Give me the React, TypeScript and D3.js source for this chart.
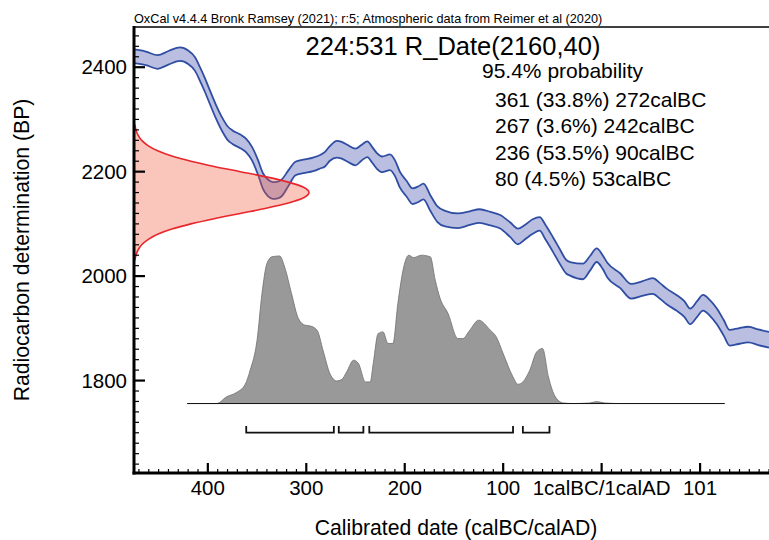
import React from 'react';
import * as d3 from 'd3';

// ---- Calibration curve (IntCal20 segment): calendar year (BC negative), mean BP, 1-sigma error
const curveYears = [-475, -463, -451, -440, -428, -420, -413, -408, -403, -398, -392, -385, -380, -375, -367, -361, -355, -349, -344, -339, -334, -329, -325, -318, -311, -303, -293, -286, -281, -276, -269, -264, -258, -250, -244, -238, -233, -228, -223, -215, -210, -205, -198, -192, -186, -181, -174, -167, -159, -146, -134, -124, -113, -103, -93, -85, -78, -70, -63, -57, -49, -42, -36, -32, -19, -12, -5, 1, 6, 19, 30, 41, 52, 59, 66, 76, 84, 90, 97, 103, 110, 117, 124, 130, 139, 149, 159, 170];
const curveBP = [2421, 2417, 2410, 2418, 2425, 2419, 2406, 2387, 2366, 2343, 2316, 2289, 2274, 2266, 2258, 2250, 2234, 2208, 2182, 2169, 2164, 2165, 2169, 2188, 2206, 2210, 2214, 2219, 2224, 2235, 2243, 2241, 2235, 2228, 2236, 2243, 2232, 2220, 2214, 2218, 2207, 2185, 2167, 2153, 2157, 2162, 2140, 2119, 2110, 2106, 2111, 2115, 2110, 2104, 2089, 2076, 2084, 2095, 2100, 2084, 2059, 2036, 2018, 2014, 2009, 2024, 2040, 2027, 2011, 1991, 1971, 1976, 1981, 1972, 1961, 1949, 1937, 1923, 1937, 1949, 1939, 1923, 1901, 1882, 1885, 1888, 1883, 1878];
const curveErr = [13, 13, 13, 13, 13, 13, 13, 13, 13, 13, 13, 13, 13, 13, 13, 13, 13, 14, 15, 16, 16, 16, 16, 15, 13, 13, 13, 13, 14, 14, 16, 16, 16, 16, 15, 15, 15, 15, 15, 15, 15, 15, 15, 15, 15, 15, 15, 15, 15, 14, 13, 13, 13, 13, 14, 15, 14, 14, 13, 14, 14, 14, 13, 13, 15, 14, 13, 13, 14, 14, 14, 14, 15, 15, 15, 15, 15, 15, 15, 15, 15, 15, 15, 15, 15, 15, 15, 15];

// ---- Radiocarbon date R_Date(2160,40): BP levels and relative density
const dateBP = [2290, 2280, 2270, 2260, 2250, 2240, 2230, 2220, 2210, 2200, 2190, 2180, 2170, 2160, 2150, 2140, 2130, 2120, 2110, 2100, 2090, 2080, 2070, 2060, 2050, 2040, 2030];
const dateDensity = [0.005, 0.011, 0.023, 0.044, 0.08, 0.135, 0.216, 0.325, 0.458, 0.607, 0.755, 0.882, 0.969, 1.0, 0.969, 0.882, 0.755, 0.607, 0.458, 0.325, 0.216, 0.135, 0.08, 0.044, 0.023, 0.011, 0.005];

// ---- Calibrated probability distribution
const probYears = [-421, -391, -381, -371, -362, -357, -350, -345, -340, -335, -327, -322, -315, -308, -301, -296, -289, -283, -276, -269, -264, -259, -252, -247, -240, -235, -232, -227, -222, -217, -212, -207, -201, -196, -191, -183, -174, -169, -164, -156, -146, -141, -134, -125, -113, -107, -100, -90, -85, -80, -73, -66, -60, -54, -47, -39, -29, -12, -5, 3, 19, 125];
const probValues = [0, 0, 0.045, 0.074, 0.13, 0.225, 0.427, 0.742, 0.944, 0.989, 0.995, 0.921, 0.742, 0.573, 0.528, 0.523, 0.494, 0.359, 0.202, 0.152, 0.162, 0.213, 0.292, 0.27, 0.146, 0.146, 0.27, 0.472, 0.483, 0.405, 0.405, 0.674, 0.921, 1.0, 0.984, 1.0, 0.989, 0.831, 0.708, 0.607, 0.438, 0.438, 0.494, 0.562, 0.494, 0.449, 0.337, 0.179, 0.13, 0.146, 0.225, 0.348, 0.371, 0.179, 0.045, 0.004, 0, 0.004, 0.013, 0.004, 0, 0];

// ---- 95.4% ranges (calBC)
const rangeFrom = [361, 267, 236, 80];
const rangeTo = [272, 242, 90, 53];
const rangePct = [33.8, 3.6, 53.5, 4.5];

// ---- Axis ticks
const xTickValues = [-400, -300, -200, -100, 0, 100];
const xTickLabels = ['400', '300', '200', '100', '1calBC/1calAD', '101'];
const yTickValues = [1800, 2000, 2200, 2400];

const headerText = 'OxCal v4.4.4 Bronk Ramsey (2021); r:5; Atmospheric data from Reimer et al (2020)';
const titleText = '224:531 R_Date(2160,40)';

const W = 769;
const H = 540;
const FONT = "'Liberation Sans', Arial, Helvetica, sans-serif";

export default function App() {
  const left = 134, right = 769, top = 27, bottom = 473;
  const x = d3.scaleLinear().domain([-475, 170]).range([left, right]);
  const y = d3.scaleLinear().domain([1623, 2477]).range([bottom, top]);
  const dens = d3.scaleLinear().domain([0, 1]).range([left, 309]);
  const probBaseBP = 1756;
  const probTopBP = 2040;
  const prob = d3.scaleLinear().domain([0, 1]).range([y(probBaseBP), y(probTopBP)]);

  const curve = curveYears.map((yr, i) => ({ yr, m: curveBP[i], e: curveErr[i] }));
  const band = d3.area<any>()
    .x(d => x(d.yr)).y0(d => y(d.m - d.e)).y1(d => y(d.m + d.e))
    .curve(d3.curveMonotoneX)(curve) || '';
  const upper = d3.line<any>().x(d => x(d.yr)).y(d => y(d.m + d.e)).curve(d3.curveMonotoneX)(curve) || '';
  const lower = d3.line<any>().x(d => x(d.yr)).y(d => y(d.m - d.e)).curve(d3.curveMonotoneX)(curve) || '';

  const date = dateBP.map((bp, i) => ({ bp, d: dateDensity[i] }));
  const dateArea = d3.area<any>().y(d => y(d.bp)).x0(dens(0)).x1(d => dens(d.d)).curve(d3.curveMonotoneY)(date) || '';
  const dateLine = d3.line<any>().y(d => y(d.bp)).x(d => dens(d.d)).curve(d3.curveMonotoneY)(date) || '';

  const pd = probYears.map((yr, i) => ({ yr, p: probValues[i] }));
  const probArea = d3.area<any>().x(d => x(d.yr)).y0(prob(0)).y1(d => prob(d.p)).curve(d3.curveMonotoneX)(pd) || '';
  const probLine = d3.line<any>().x(d => x(d.yr)).y(d => prob(d.p)).curve(d3.curveMonotoneX)(pd) || '';
  const baseY = prob(0);

  const yMinor = d3.range(1640, 2461, 20);
  const xMinor = d3.range(-470, 171, 10);

  return (
    <svg width={W} height={H} viewBox={`0 0 ${W} ${H}`}
      style={{ position: 'absolute', left: 0, top: 0, background: '#fff' }}
      fontFamily={FONT}>
      <defs>
        <clipPath id="plot">
          <rect x={left} y={top} width={right - left} height={bottom - top} />
        </clipPath>
      </defs>
      <rect x={0} y={0} width={W} height={H} fill="#fff" />

      <g clipPath="url(#plot)">
        {/* calibration curve */}
        <path d={band} fill="#1a2a9a" fillOpacity={0.3} stroke="none" />
        <path d={upper} fill="none" stroke="#2f4ea3" strokeWidth={1.8} />
        <path d={lower} fill="none" stroke="#2f4ea3" strokeWidth={1.8} />
        {/* radiocarbon date distribution */}
        <path d={dateArea} fill="rgb(240,90,60)" fillOpacity={0.35} stroke="none" />
        <path d={dateLine} fill="none" stroke="#e8262b" strokeWidth={1.6} />
        {/* calibrated distribution */}
        <path d={probArea} fill="#999999" stroke="none" />
        <path d={probLine} fill="none" stroke="#6e6e6e" strokeWidth={0.8} />
        <line x1={x(probYears[0])} x2={x(probYears[probYears.length - 1])} y1={baseY} y2={baseY} stroke="#111" strokeWidth={1} />
        {/* 95.4% range brackets */}
        {rangeFrom.map((f, i) => {
          const x1 = x(-f), x2 = x(-rangeTo[i]);
          const t = baseY + 22.5, b = baseY + 29;
          return <path key={i} d={`M${x1},${t}V${b}H${x2}V${t}`} fill="none" stroke="#111" strokeWidth={1.8} />;
        })}
      </g>

      {/* frame top */}
      <line x1={left} x2={right} y1={top} y2={top} stroke="#000" strokeWidth={1.5} />

      {/* y axis ticks */}
      {yMinor.map(v => {
        const major = v % 200 === 0;
        return <line key={v} x1={left} x2={left + (major ? 11 : 5)} y1={y(v)} y2={y(v)} stroke="#000" strokeWidth={major ? 2.2 : 1.2} />;
      })}
      {yTickValues.map(v => (
        <text key={v} x={127} y={y(v) + 7} textAnchor="end" fontSize={20.5} fill="#000">{v}</text>
      ))}
      {/* x axis ticks */}
      {xMinor.map(v => {
        const major = v % 100 === 0;
        return <line key={v} x1={x(v)} x2={x(v)} y1={bottom} y2={bottom - (major ? 10 : 4)} stroke="#000" strokeWidth={major ? 2.2 : 1.2} />;
      })}
      {xTickValues.map((v, i) => (
        <text key={v} x={x(v)} y={495} textAnchor="middle" fontSize={20.5} fill="#000">{xTickLabels[i]}</text>
      ))}

      {/* axes */}
      <line x1={left} x2={left} y1={top - 1} y2={bottom + 1.5} stroke="#000" strokeWidth={3} />
      <line x1={left - 1.5} x2={right} y1={bottom} y2={bottom} stroke="#000" strokeWidth={3} />

      {/* axis titles */}
      <text x={456} y={535} textAnchor="middle" fontSize={21.2} fill="#000">Calibrated date (calBC/calAD)</text>
      <text transform="translate(29,250) rotate(-90)" textAnchor="middle" fontSize={21.2} fill="#000">Radiocarbon determination (BP)</text>

      {/* header and annotations */}
      <text x={134} y={23} fontSize={12.7} fill="#000">{headerText}</text>
      <text x={453} y={55} textAnchor="middle" fontSize={25.5} fill="#000">{titleText}</text>
      <text x={482} y={78} fontSize={21} fill="#000">95.4% probability</text>
      {rangeFrom.map((f, i) => (
        <text key={i} x={495} y={106.5 + i * 26.5} fontSize={21} fill="#000">
          {`${f} (${rangePct[i]}%) ${rangeTo[i]}calBC`}
        </text>
      ))}
    </svg>
  );
}
